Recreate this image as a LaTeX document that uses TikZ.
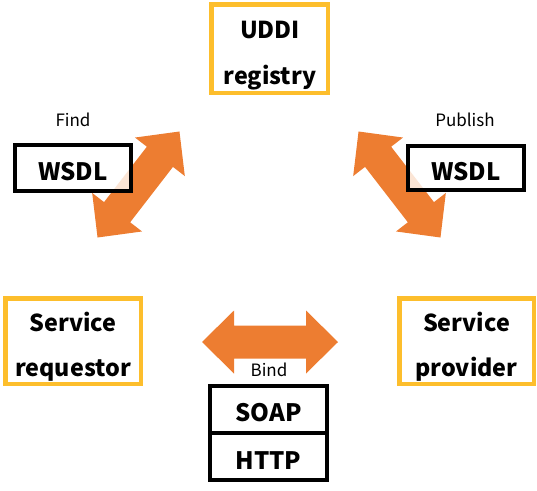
\documentclass[tikz,border=0pt]{standalone}
\usepackage{fontspec}
\setmainfont{Noto Sans CJK JP}
\definecolor{gold}{HTML}{FDBE2C}
\definecolor{arrowc}{HTML}{ED7D31}
\begin{document}
\begin{tikzpicture}[x=1pt,y=-1pt,
  role/.style={draw=gold, line width=4.5pt, fill=white, inner sep=0pt},
  doc/.style={draw=black, line width=4pt, fill=white, fill opacity=0.8, text opacity=1,
    minimum width=116, inner sep=0pt},
  bold/.style={font=\bfseries\fontsize{24}{28}\selectfont, inner sep=0pt, anchor=base},
  rolet/.style={bold, font=\bfseries\fontsize{23.3}{28}\selectfont},
  lbl/.style={font=\fontsize{17}{20}\selectfont, inner sep=0pt, anchor=base},
  pics/dblarrow/.style={code={
    \fill[arrowc] (-#1,0) -- (-#1+32,31.5) -- (-#1+32,16.5) -- (#1-32,16.5) -- (#1-32,31.5)
      -- (#1,0) -- (#1-32,-31.5) -- (#1-32,-16.5) -- (-#1+32,-16.5) -- (-#1+32,-31.5) -- cycle;}}]
\useasboundingbox (0,0) rectangle (537,490);
% arrows
\coordinate (findc) at (138.5,184.5);
\coordinate (pubc) at (399.5,184.5);
\coordinate (bindc) at (270,342);
\pic[rotate=52.3] at (findc) {dblarrow=67};
\pic[rotate=-52.3] at (pubc) {dblarrow=67};
\pic at (bindc) {dblarrow=68};
% roles
\node[role, minimum width=116.5, minimum height=88.5] (uddi) at (269.5,48.5) {};
\node[rolet] (uddi1) at (270,38.3) {UDDI};
\node[rolet] (uddi2) at (270,84) {registry};
\node[role, minimum width=135.5, minimum height=85.5] (req) at (73,341) {};
\node[rolet] (req1) at (73,331.7) {Service};
\node[rolet] (req2) at (73,376.7) {requestor};
\node[role, minimum width=134.5, minimum height=85.5] (prov) at (466.5,341) {};
\node[rolet] (prov1) at (466.5,331.7) {Service};
\node[rolet] (prov2) at (466.5,376.7) {provider};
% documents
\node[doc, minimum height=46] (fw) at (73,168) {};
\node[bold] (fwt) at (73,180) {WSDL};
\node[doc, minimum height=44] (pw) at (466,168) {};
\node[bold] (pwt) at (466,180) {WSDL};
\node[doc, fill opacity=1, minimum width=117, minimum height=47] (soap) at (268.5,409.5) {};
\node[bold] (soapt) at (268.5,421.7) {SOAP};
\node[doc, fill opacity=1, minimum width=117, minimum height=47] (http) at (268.5,456.5) {};
\node[bold] (httpt) at (268.5,469.3) {HTTP};
% labels
\node[lbl] (find) at (73,126.7) {Find};
\node[lbl] (pub) at (465,126.7) {Publish};
\node[lbl] (bind) at (269,376) {Bind};
\end{tikzpicture}
\end{document}
